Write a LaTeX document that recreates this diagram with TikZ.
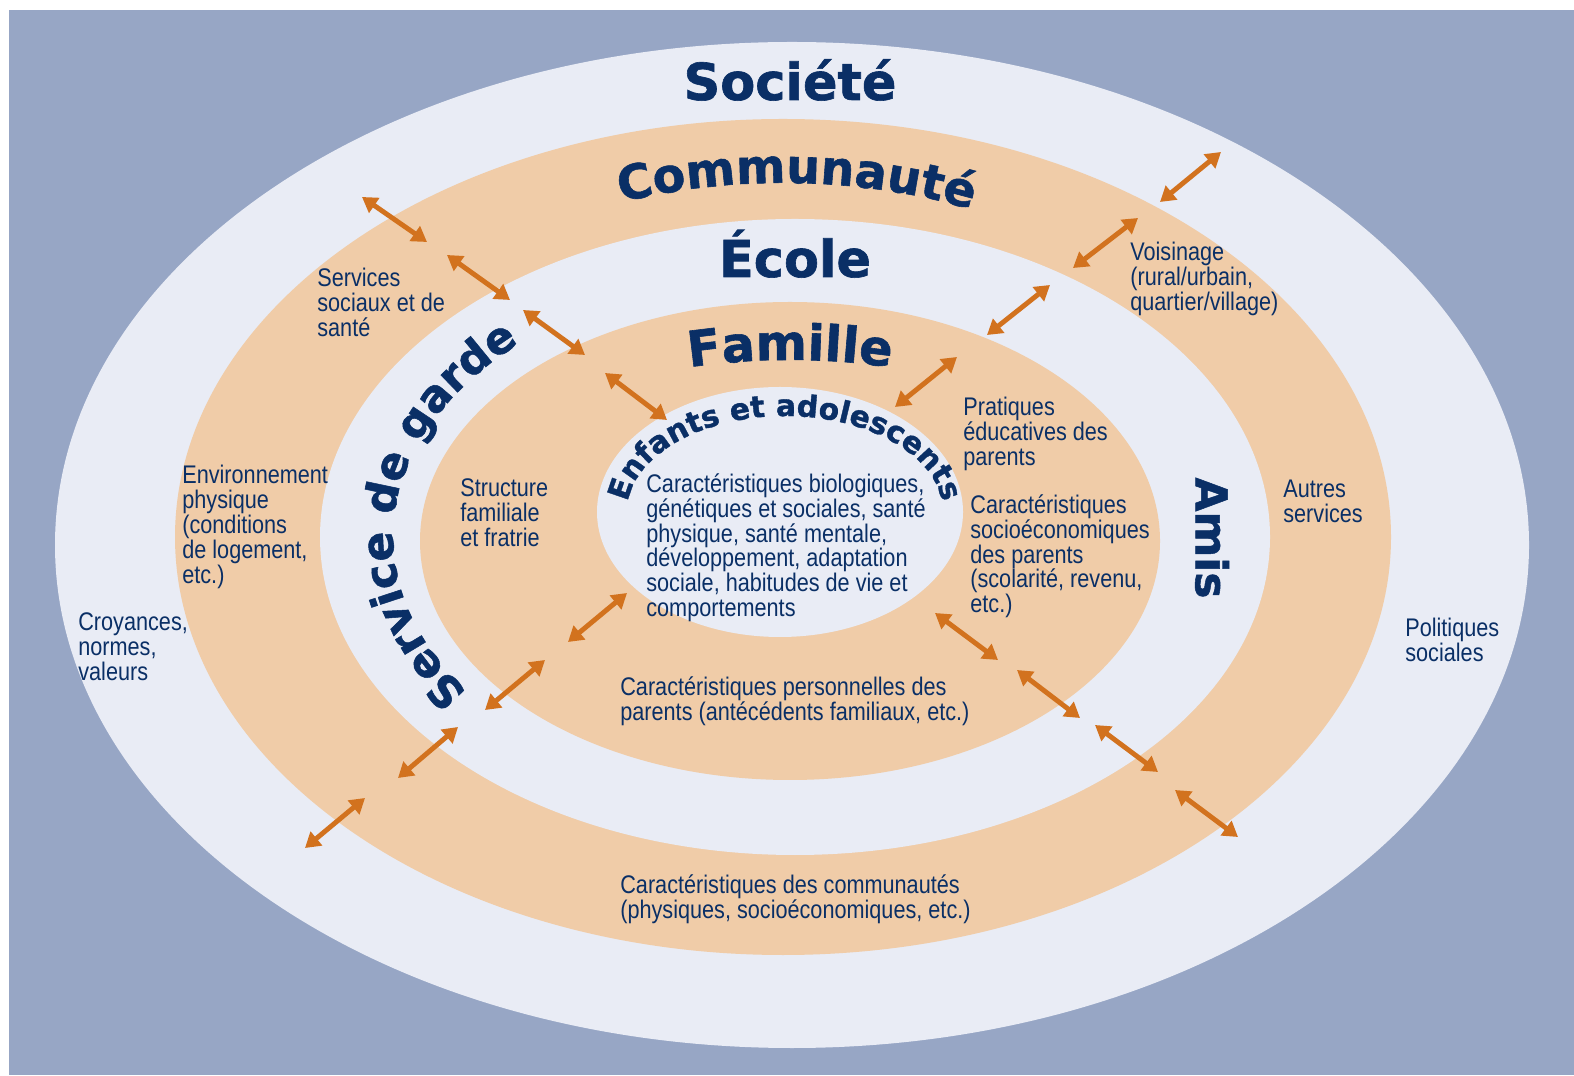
\documentclass[tikz,border=0pt]{standalone}
\usepackage{fontspec}
\usetikzlibrary{arrows.meta,calc,decorations.text}
\newfontfamily\headfont{DejaVu Sans}[BoldFeatures={FakeBold=1.2}]
\newfontfamily\bodyfont{Liberation Sans}[FakeStretch=0.85]

\begin{document}
\begin{tikzpicture}[x=0.02cm, y=0.02cm,
    label/.style={anchor=north west, inner sep=0pt, align=left, text=navy,
        font=\bodyfont\fontsize{14.5}{14.2}\selectfont},
    heading/.style={inner sep=0pt, text=navy, font=\headfont\bfseries\fontsize{29}{32}\selectfont},
    link/.style={draw=arrowc, line width=2.8pt,
        {Triangle[length=8.5pt,width=10pt]}-{Triangle[length=8.5pt,width=10pt]}},
    ]
    \definecolor{bgblue}{HTML}{97A6C5}
    \definecolor{lightc}{HTML}{E9ECF5}
    \definecolor{peach}{HTML}{F0CCA8}
    \definecolor{arrowc}{HTML}{D2721E}
    \definecolor{navy}{HTML}{0A2F66}

    \useasboundingbox (0,0) rectangle (1574,1075);
    \fill[white] (0,0) rectangle (1574,1075);
    \fill[bgblue] (9,0) rectangle (1574,1065);

    \coordinate (societe_c) at (792,530);
    \coordinate (commu_c) at (783,538);
    \coordinate (ecole_c) at (795,538);
    \coordinate (famille_c) at (790,534);
    \coordinate (enfants_c) at (780,563);

    \fill[lightc] (societe_c) ellipse[x radius=737, y radius=503];
    \fill[peach] (commu_c) ellipse[x radius=608, y radius=418];
    \fill[lightc] (ecole_c) ellipse[x radius=475, y radius=318];
    \fill[peach] (famille_c) ellipse[x radius=370, y radius=239];
    \fill[lightc] (enfants_c) ellipse[x radius=183, y radius=125];

    % ring titles
    \node[heading, anchor=base] (societe) at (790,975) {Société};
    \node[heading, anchor=base] (ecole) at (795,798) {École};
    \node[heading, rotate=-90, font=\headfont\bfseries\fontsize{25}{28}\selectfont] (amis) at (1212,537) {Amis};

    \path[decorate, decoration={text along path, text align=center, text color=navy,
        text={|\headfont\bfseries\fontsize{27}{30}\selectfont|Communauté}}]
        ($(commu_c)+(148:497 and 354)$) arc[start angle=148, end angle=28, x radius=497, y radius=354];
    \path[decorate, decoration={text along path, text align=center, text color=navy,
        text={|\headfont\bfseries\fontsize{28}{30}\selectfont|Famille}}]
        ($(famille_c)+(150:360 and 181)$) arc[start angle=150, end angle=30, x radius=360, y radius=181];
    \path[decorate, decoration={text along path, text align=center, text color=navy,
        text={|\headfont\bfseries\fontsize{17}{19}\selectfont|Enfants et adolescents}}]
        ($(785,563)+(182:158 and 96)$) arc[start angle=182, end angle=-2, x radius=158, y radius=96];
    \path[decorate, decoration={text along path, text align=center, text color=navy,
        text={|\headfont\bfseries\fontsize{25}{27}\selectfont|Service de garde}}]
        ($(ecole_c)+(235:402 and 266)$) arc[start angle=235, end angle=115, x radius=402, y radius=266];

    % labels
    \node[label] (servsoc) at (317,807) {Services\\sociaux et de\\santé};
    \node[label] (envphys) at (182,610) {Environnement\\physique\\(conditions\\de logement,\\etc.)};
    \node[label] (croyances) at (78,463) {Croyances,\\normes,\\valeurs};
    \node[label] (structure) at (460,597) {Structure\\familiale\\et fratrie};
    \node[label] (caracbio) at (646,602) {Caractéristiques biologiques,\\génétiques et sociales, santé\\physique, santé mentale,\\développement, adaptation\\sociale, habitudes de vie et\\comportements};
    \node[label] (pratiques) at (963,678) {Pratiques\\éducatives des\\parents};
    \node[label] (socioeco) at (970,581) {Caractéristiques\\socioéconomiques\\des parents\\(scolarité, revenu,\\etc.)};
    \node[label] (voisinage) at (1130,833) {Voisinage\\(rural/urbain,\\quartier/village)};
    \node[label] (autres) at (1283,595) {Autres\\services};
    \node[label] (politiques) at (1405,457) {Politiques\\sociales};
    \node[label] (perso) at (620,399) {Caractéristiques personnelles des\\parents (antécédents familiaux, etc.)};
    \node[label] (communautes) at (620,201) {Caractéristiques des communautés\\(physiques, socioéconomiques, etc.)};

    % arrows between rings
    \coordinate (ul1a) at (362,878); \coordinate (ul1b) at (427,833);
    \coordinate (ul2a) at (447,820); \coordinate (ul2b) at (510,775);
    \coordinate (ul3a) at (523,765); \coordinate (ul3b) at (585,720);
    \coordinate (ul4a) at (605,702); \coordinate (ul4b) at (667,655);
    \coordinate (ur1a) at (1221,923); \coordinate (ur1b) at (1160,873);
    \coordinate (ur2a) at (1138,857); \coordinate (ur2b) at (1073,807);
    \coordinate (ur3a) at (1050,790); \coordinate (ur3b) at (987,740);
    \coordinate (ur4a) at (957,718); \coordinate (ur4b) at (895,668);
    \coordinate (ll1a) at (627,482); \coordinate (ll1b) at (568,433);
    \coordinate (ll2a) at (545,415); \coordinate (ll2b) at (485,365);
    \coordinate (ll3a) at (458,348); \coordinate (ll3b) at (398,297);
    \coordinate (ll4a) at (365,277); \coordinate (ll4b) at (305,227);
    \coordinate (lr1a) at (935,462); \coordinate (lr1b) at (998,415);
    \coordinate (lr2a) at (1017,405); \coordinate (lr2b) at (1080,357);
    \coordinate (lr3a) at (1095,350); \coordinate (lr3b) at (1158,303);
    \coordinate (lr4a) at (1175,285); \coordinate (lr4b) at (1238,238);

    \foreach \side in {ul,ur,ll,lr}{
        \foreach \k in {1,...,4}{
            \path[link] (\side\k a) -- (\side\k b);
        }
    }
\end{tikzpicture}
\end{document}
